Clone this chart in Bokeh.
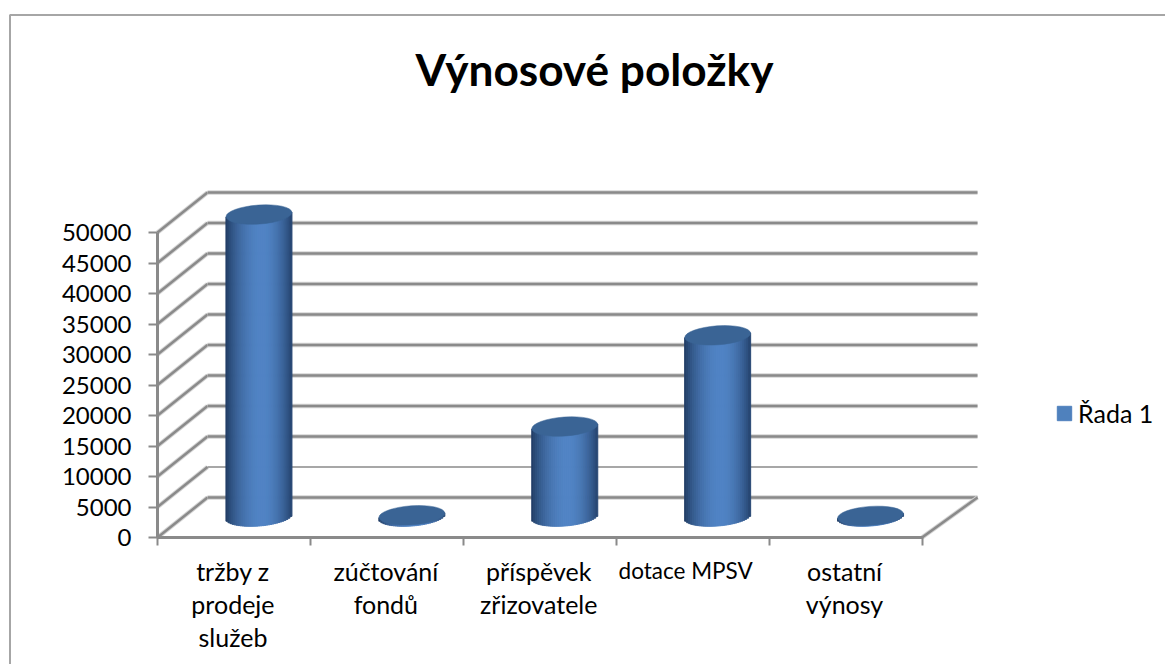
import math
from bokeh.core.properties import value
from bokeh.embed import file_html
from bokeh.models import ColumnDataSource, FixedTicker, Label, Legend, LegendItem, LinearAxis, Range1d
from bokeh.plotting import figure
from bokeh.resources import INLINE

# ---- data -----------------------------------------------------------------
categories = [
    ["tržby z", "prodeje", "služeb"],
    ["zúčtování", "fondů"],
    ["příspěvek", "zřizovatele"],
    ["dotace MPSV"],
    ["ostatní", "výnosy"],
]
series_name = "Řada 1"
series_values = [49500, 200, 14750, 29700, 100]
y_ticks = [0, 5000, 10000, 15000, 20000, 25000, 30000, 35000, 40000, 45000, 50000]
title_text = "Výnosové položky"

# ---- page geometry ---------------------------------------------------------
W, H = 1165, 664
PX_X0, PX_Y0 = 157, 537      # page pixel of the front-left axis corner
PX_PER_CAT = 152.9
PX_PER_VAL = 305 / 50000
MARGIN = 0                   # file_html's own template has no body margin


def dx(px):
    return px / PX_PER_CAT


def dy(px):
    return px / PX_PER_VAL


def page_x(px):
    return dx(px - PX_X0)


def page_y(px):
    return dy(PX_Y0 - px)


DEPTH_X, DEPTH_Y = dx(50), dy(40)
BACK_END = page_x(977)
N = len(categories)

GRID = "#8a8a8a"
HALO = "#d4d4d4"
FONT = "Lato"
TXT = "#000000"
AXIS_PT = "25px"

p = figure(
    width=W, height=H, output_backend="svg", toolbar_location=None,
    x_axis_type=None, y_axis_type=None, min_border=0,
    x_range=Range1d(page_x(MARGIN), page_x(MARGIN + W)),
    y_range=Range1d(page_y(MARGIN + H), page_y(MARGIN)),
    outline_line_color=None, background_fill_color="white", border_fill_color="white",
)
p.grid.visible = False

# chart-area border (only its top and left edges are in the picture)
p.line([page_x(9.5)] * 2 + [page_x(MARGIN + W)],
       [page_y(MARGIN + H), page_y(14.5), page_y(14.5)],
       line_color="#a6a6a6", line_width=2)

# ---- 3D walls --------------------------------------------------------------
for v in y_ticks:
    thin = v == 5000
    back_x = [DEPTH_X, BACK_END]
    back_y = [v + DEPTH_Y, v + DEPTH_Y]
    side_x = [0, DEPTH_X]
    side_y = [v, v + DEPTH_Y]
    p.line(side_x, side_y, line_color=HALO, line_width=4.5)
    p.line(side_x, side_y, line_color=GRID, line_width=2.5)
    if not thin:
        p.line(back_x, back_y, line_color=HALO, line_width=4.5)
    p.line(back_x, back_y, line_color=GRID, line_width=1.5 if thin else 2.5)

# floor right edge
floor_x = [N, BACK_END]
floor_y = [0, DEPTH_Y]
p.line(floor_x, floor_y, line_color=HALO, line_width=4.5)
p.line(floor_x, floor_y, line_color=GRID, line_width=2.5)

# ---- axes ------------------------------------------------------------------
yaxis = LinearAxis(
    ticker=FixedTicker(ticks=y_ticks), fixed_location=0, bounds=(0, 50000),
    axis_line_color=GRID, axis_line_width=3,
    major_tick_line_color=GRID, major_tick_line_width=2,
    major_tick_in=0, major_tick_out=9, minor_tick_line_color=None,
    major_label_text_font=FONT, major_label_text_font_size="24px",
    major_label_text_color=TXT, major_label_standoff=17,
)
xaxis = LinearAxis(
    ticker=FixedTicker(ticks=list(range(N + 1))), fixed_location=0, bounds=(0, N),
    axis_line_color=GRID, axis_line_width=3,
    major_tick_line_color=GRID, major_tick_line_width=2,
    major_tick_in=0, major_tick_out=8, minor_tick_line_color=None,
    major_label_text_color=None, major_label_text_font_size="1px",
)
p.add_layout(yaxis, "left")
p.add_layout(xaxis, "below")

# ---- cylinders -------------------------------------------------------------
BAR_HALF = 33          # px
ELL_HALF = 9.5         # px
TILT = 2.5             # px rise over half a width
STRIPS = 33
EDGE_L = (31, 58, 96)
EDGE_R = (36, 66, 108)
MID = (81, 132, 197)
PEAK_AT = 0.1


def shade(u):
    if u < PEAK_AT:
        t = (u + 1) / (PEAK_AT + 1)
        a = EDGE_L
    else:
        t = (1 - u) / (1 - PEAK_AT)
        a = EDGE_R
    t = math.sin(t * math.pi / 2) ** 0.8
    return "#%02x%02x%02x" % tuple(int(a[k] + (MID[k] - a[k]) * t) for k in range(3))


left, right, top, bottom, colour = [], [], [], [], []
cap_x, cap_y = [], []
for i, val in enumerate(series_values):
    cx = i + 0.5 + DEPTH_X / 2
    base = DEPTH_Y / 2 + dy(1)
    cap_x.append(cx)
    cap_y.append(base + val)
    for k in range(STRIPS):
        u0, u1 = -1 + 2 * k / STRIPS, -1 + 2 * (k + 1) / STRIPS
        u = (u0 + u1) / 2
        curve = ELL_HALF * math.sqrt(max(0, 1 - u * u))
        lift = TILT * u
        left.append(cx + dx(BAR_HALF * u0))
        right.append(cx + dx(BAR_HALF * u1))
        top.append(base + val + dy(lift))
        bottom.append(base + dy(lift - curve))
        colour.append(shade(u))

p.quad(left="left", right="right", top="top", bottom="bottom", color="colour",
       line_width=1, source=ColumnDataSource(dict(left=left, right=right, top=top, bottom=bottom, colour=colour)))
p.ellipse(x=cap_x, y=cap_y, width=BAR_HALF * 2, height=ELL_HALF * 2,
          width_units="screen", height_units="screen", angle=0.07,
          fill_color="#3a6495", line_color="#3a6495", line_width=0.5)

# ---- category labels -------------------------------------------------------
lab_x, lab_y, lab_t, lab_off, lab_sz, lab_shift = [], [], [], [], [], []
for i, lines in enumerate(categories):
    for j, line in enumerate(lines):
        long_caps = line == "dotace MPSV"
        lab_x.append(i + 0.5)
        lab_y.append(0)
        lab_t.append(line)
        lab_off.append(33 + 33 * j)
        lab_sz.append("22.5px" if long_caps else AXIS_PT)
        lab_shift.append(-7 if long_caps else -1)
p.text(x="x", y="y", text="t", y_offset="o", x_offset="s", text_font_size="z",
       source=ColumnDataSource(dict(x=lab_x, y=lab_y, t=lab_t, o=lab_off, z=lab_sz, s=lab_shift)),
       text_font=value(FONT), text_color=TXT,
       text_align="center", text_baseline="middle")

# ---- title -----------------------------------------------------------------
p.add_layout(Label(x=page_x(594), y=page_y(68), text=title_text, text_font=FONT, text_font_style="bold",
                   text_font_size="44.2px", text_color=TXT, text_align="center", text_baseline="middle"))

# ---- legend ----------------------------------------------------------------
swatch = p.quad(left=[float("nan")], right=[float("nan")], top=[float("nan")], bottom=[float("nan")],
                fill_color="#4f81bd", line_color="#4f81bd")
legend = Legend(
    items=[LegendItem(label=series_name, renderers=[swatch])],
    location=(1055, 236), orientation="vertical",
    background_fill_alpha=0, border_line_color=None,
    glyph_width=18, glyph_height=18, label_standoff=5, padding=8, margin=0,
    label_text_font=FONT, label_text_font_size=AXIS_PT, label_text_color=TXT,
)
p.add_layout(legend, "center")

open("out.html", "w").write(file_html(p, INLINE))
